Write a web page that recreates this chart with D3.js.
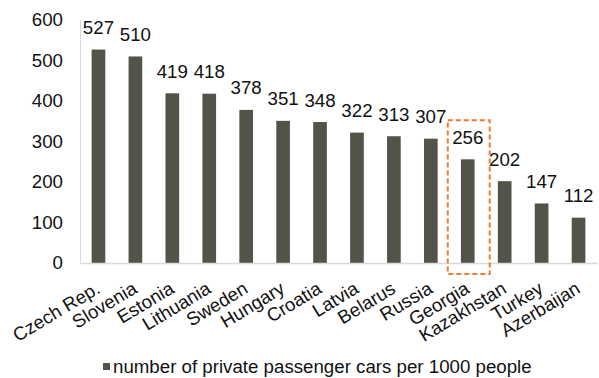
<!DOCTYPE html>
<html>
<head>
<meta charset="utf-8">
<script src="https://cdn.jsdelivr.net/npm/d3@7"></script>
<style>
  html, body { margin: 0; padding: 0; background: #fff; }
  svg { display: block; font-family: "Liberation Sans", Arial, sans-serif; }
</style>
</head>
<body>
<svg id="chart" width="599" height="378"></svg>
<script>
// Private passenger cars per 1000 people, by country
const countries = ["Czech Rep.", "Slovenia", "Estonia", "Lithuania", "Sweden", "Hungary", "Croatia",
                   "Latvia", "Belarus", "Russia", "Georgia", "Kazakhstan", "Turkey", "Azerbaijan"];
const carsPer1000 = [527, 510, 419, 418, 378, 351, 348, 322, 313, 307, 256, 202, 147, 112];
const yTicks = [0, 100, 200, 300, 400, 500, 600];
const highlighted = "Georgia";
const legendLabel = "number of private passenger cars per 1000 people";

const barColor = "#545349";
const accent = "#ED7D31";
const textColor = "#111";
const fontSize = 18.7;

const svg = d3.select("#chart");
const plot = { left: 80, right: 597, top: 20, bottom: 263 };

const x = d3.scaleBand()
  .domain(countries)
  .range([plot.left, plot.right])
  .paddingInner(0.63)
  .paddingOuter(0.315);

const y = d3.scaleLinear()
  .domain([0, 600])
  .range([plot.bottom, plot.top]);

// Value axis: light line, no tick marks
const yAxis = svg.append("g")
  .attr("transform", `translate(${plot.left},0)`)
  .call(d3.axisLeft(y).tickValues(yTicks).tickSize(0).tickPadding(17));
yAxis.select(".domain").attr("stroke", "#d9d9d9").attr("stroke-width", 1);
yAxis.selectAll("text")
  .attr("font-size", fontSize)
  .attr("fill", textColor)
  .style("font-family", "Liberation Sans, Arial, sans-serif");

// Bars
svg.append("g").selectAll("rect")
  .data(countries)
  .join("rect")
  .attr("x", d => x(d))
  .attr("width", x.bandwidth())
  .attr("y", (d, i) => y(carsPer1000[i]))
  .attr("height", (d, i) => y(0) - y(carsPer1000[i]))
  .attr("fill", barColor);

// Category axis baseline and rotated labels
const xAxis = svg.append("g")
  .attr("transform", `translate(0,${plot.bottom})`)
  .call(d3.axisBottom(x).tickSize(0).tickSizeOuter(0));
xAxis.select(".domain").attr("stroke", "#d9d9d9").attr("stroke-width", 1.5);
xAxis.selectAll("text")
  .attr("font-size", fontSize)
  .attr("fill", textColor)
  .style("font-family", "Liberation Sans, Arial, sans-serif")
  .attr("text-anchor", "end")
  .attr("dy", null)
  .attr("y", null)
  .attr("transform", "translate(3,29) rotate(-31)");

// Value labels above bars
svg.append("g").selectAll("text")
  .data(countries)
  .join("text")
  .attr("x", d => x(d) + x.bandwidth() / 2)
  .attr("y", (d, i) => y(carsPer1000[i]) - 15.5)
  .attr("text-anchor", "middle")
  .attr("font-size", fontSize)
  .attr("fill", textColor)
  .text((d, i) => carsPer1000[i]);

// Dashed frame around the highlighted country
const hi = countries.indexOf(highlighted);
const step = x.step();
const bandStart = x(highlighted) - x.paddingInner() * step / 2;
svg.append("rect")
  .attr("x", bandStart - 1.5)
  .attr("y", y(carsPer1000[hi]) - 39)
  .attr("width", step + 5)
  .attr("height", plot.bottom + 11 - (y(carsPer1000[hi]) - 39))
  .attr("fill", "none")
  .attr("stroke", accent)
  .attr("stroke-width", 2)
  .attr("stroke-dasharray", "5,3");

// Legend
const legend = svg.append("g").attr("transform", "translate(103,363)");
legend.append("rect").attr("width", 7).attr("height", 7).attr("fill", barColor);
legend.append("text")
  .attr("x", 10)
  .attr("y", 3.5)
  .attr("dy", "0.35em")
  .attr("font-size", fontSize)
  .attr("fill", textColor)
  .text(legendLabel);
</script>
</body>
</html>
